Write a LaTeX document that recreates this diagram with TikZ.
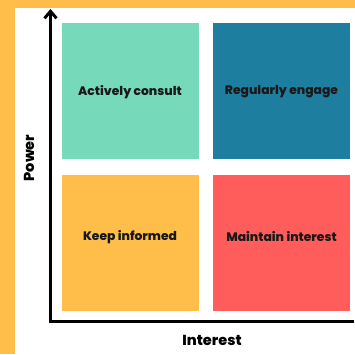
\documentclass[tikz,border=0pt]{standalone}
\usepackage{fontspec}
\setmainfont{Poppins}[UprightFont=* ExtraBold, BoldFont=* ExtraBold]
\usetikzlibrary{arrows.meta}

\definecolor{frame}{RGB}{255,190,74}
\definecolor{consultcol}{RGB}{118,217,185}
\definecolor{engagecol}{RGB}{30,126,160}
\definecolor{informcol}{RGB}{255,190,74}
\definecolor{interestcol}{RGB}{255,92,92}

\tikzset{
  quad/.style={minimum width=137pt,minimum height=136pt,inner sep=0pt},
  quadtext/.style={font=\fontsize{12.3}{14}\selectfont,text=black!90},
  axis/.style={line width=3pt,line join=miter}
}

\begin{document}
\begin{tikzpicture}[x=1pt,y=-1pt]
\useasboundingbox (0,0) rectangle (355,354);
\fill[frame] (0,0) rectangle (355,354);
\fill[white] (15,8) rectangle (355,354);
% the four quadrants
\node[quad,fill=consultcol] (a) at (130,91) {};
\node[quad,fill=engagecol] (b) at (281.5,91) {};
\node[quad,fill=informcol] (c) at (130,242.5) {};
\node[quad,fill=interestcol] (d) at (281.5,242.5) {};
\node[quadtext] (at) at (130,92) {Actively consult};
\node[quadtext] (bt) at (281.5,92) {Regularly engage};
\node[quadtext] (ct) at (130,237) {Keep informed};
\node[quadtext] (dt) at (281.5,237) {Maintain interest};
% axes
\coordinate (o) at (50.5,321.5);
\coordinate (top) at (50.5,9);
\coordinate (right) at (354,321.5);
\draw [axis,{Straight Barb[length=7pt,width=12pt]}-] (top) -- (o) -- (right);
\node[rotate=90,font=\fontsize{14.5}{16}\selectfont] (p) at (29,158) {Power};
\node[font=\fontsize{14.5}{16}\selectfont] (i) at (212,340) {Interest};
\end{tikzpicture}
\end{document}
